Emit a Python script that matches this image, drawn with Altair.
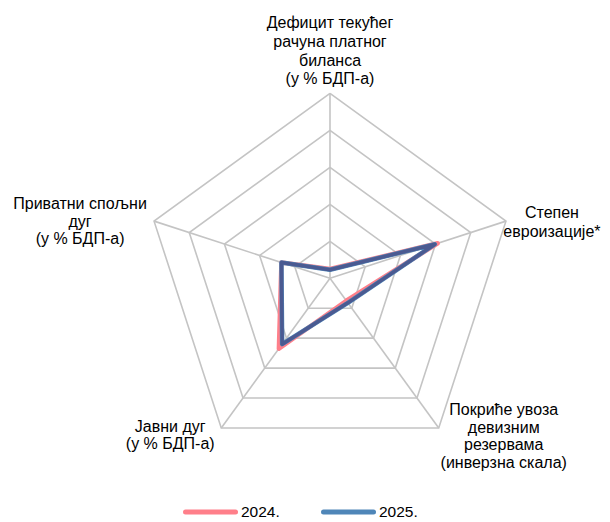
import math
import altair as alt
import pandas as pd

# ---------------- data ----------------
categories = [
    "Дефицит текућег\nрачуна платног\nбиланса\n(у % БДП-а)",
    "Степен\nевроизације*",
    "Покриће увоза\nдевизним\nрезервама\n(инверзна скала)",
    "Јавни дуг\n(у % БДП-а)",
    "Приватни спољни\nдуг\n(у % БДП-а)",
]
series = ["2024.", "2025."]
values_2024 = [0.25, 3.06, 0.75, 2.35, 1.38]
values_2025 = [0.23, 2.98, 0.82, 2.20, 1.38]
rings = [1, 2, 3, 4, 5]

# ---------------- styles / layout ----------------
PINK = "#ff7f8a"
BLUE = "#4f86b8"
NAVY = "#4b5a91"
GRID = "#c4c4c4"
FONT = "Liberation Sans"
FS = 16

W, H = 594, 514
UNIT = 37.0            # px per ring
CX, CY = 322.0, 270.3  # centre in chart px
n = len(categories)

xdom = [-CX / UNIT, (W - CX) / UNIT]
ydom = [(CY - H) / UNIT, CY / UNIT]
xs = alt.Scale(domain=xdom, range=[0, W], nice=False, zero=False)
ys = alt.Scale(domain=ydom, range=[H, 0], nice=False, zero=False)
noax = None

ang = f"datum.i * 2 * PI / {n}"

# series table
rows = []
for s, vals in zip(series, [values_2024, values_2025]):
    for i in range(n + 1):
        rows.append({"series": s, "i": i % n, "o": i, "v": vals[i % n]})
df = pd.DataFrame(rows)

# ring table
ring_rows = []
for r in rings:
    for i in range(n + 1):
        ring_rows.append({"ring": r, "i": i % n, "o": i, "v": r})
rdf = pd.DataFrame(ring_rows)

spk = pd.DataFrame({"i": list(range(n)), "v": [max(rings)] * n})


def xy(ch):
    return ch.transform_calculate(
        x=f"datum.v * sin({ang})", y=f"datum.v * cos({ang})"
    )


ring_layer = xy(alt.Chart(rdf)).mark_line(color=GRID, strokeWidth=1.6).encode(
    x=alt.X("x:Q", scale=xs, axis=noax),
    y=alt.Y("y:Q", scale=ys, axis=noax),
    detail="ring:N",
    order="o:Q",
)

spoke_layer = xy(alt.Chart(spk)).transform_calculate(x0="0", y0="0").mark_rule(
    color=GRID, strokeWidth=1.6
).encode(
    x=alt.X("x0:Q", scale=xs, axis=noax),
    y=alt.Y("y0:Q", scale=ys, axis=noax),
    x2="x:Q",
    y2="y:Q",
)

color = alt.Color(
    "series:N",
    scale=alt.Scale(domain=series, range=[PINK, BLUE]),
    legend=None,
)

line_layer = xy(alt.Chart(df)).mark_line(
    strokeWidth=4.5, strokeJoin="round", strokeCap="round"
).encode(
    x=alt.X("x:Q", scale=xs, axis=noax),
    y=alt.Y("y:Q", scale=ys, axis=noax),
    color=color,
    order="o:Q",
)

navy_layer = xy(alt.Chart(df)).transform_filter(
    alt.datum.series == series[1]
).mark_line(
    strokeWidth=3.5, strokeJoin="round", strokeCap="round", color=NAVY
).encode(
    x=alt.X("x:Q", scale=xs, axis=noax),
    y=alt.Y("y:Q", scale=ys, axis=noax),
    order="o:Q",
)

# label placement (pixel offsets of the first line's centre from each outer vertex)
label_style = [
    dict(dx=0, dy=-70, lineHeight=18.7),
    dict(dx=46, dy=-8, lineHeight=18.5),
    dict(dx=65, dy=-18, lineHeight=17.7),
    dict(dx=-51, dy=-1, lineHeight=17.5),
    dict(dx=-74, dy=-17, lineHeight=17.5),
]
label_layers = []
for i, (txt, st) in enumerate(zip(categories, label_style)):
    ldf = pd.DataFrame({"i": [i], "v": [max(rings)], "t": [txt]})
    label_layers.append(
        xy(alt.Chart(ldf)).mark_text(
            align="center",
            baseline="middle",
            lineBreak="\n",
            font=FONT,
            fontSize=FS,
            color="#000000",
            **st,
        ).encode(
            x=alt.X("x:Q", scale=xs, axis=noax),
            y=alt.Y("y:Q", scale=ys, axis=noax),
            text="t:N",
        )
    )

# manual legend (bottom)
LEG_Y = 504
LEG_X = [177.5, 315.5]
LEG_LEN = 50
legend_layers = []
for s, c, x0 in zip(series, [PINK, BLUE], LEG_X):
    sdf = pd.DataFrame({"s": [s]})
    legend_layers.append(
        alt.Chart(sdf).mark_rule(color=c, strokeWidth=5, strokeCap="round").encode(
            x=alt.value(x0), x2=alt.value(x0 + LEG_LEN), y=alt.value(LEG_Y)
        )
    )
    legend_layers.append(
        alt.Chart(sdf).mark_text(
            align="left", baseline="middle", font=FONT, fontSize=15.5, color="#000000"
        ).encode(x=alt.value(x0 + LEG_LEN + 5.5), y=alt.value(LEG_Y), text="s:N")
    )

chart = alt.layer(
    ring_layer, spoke_layer, line_layer, navy_layer, *label_layers, *legend_layers
).properties(
    width=W, height=H, padding=0, autosize=alt.AutoSizeParams(type="none")
).configure_view(stroke=None)

chart.save("out.html", embed_options={"renderer": "svg", "actions": False})
